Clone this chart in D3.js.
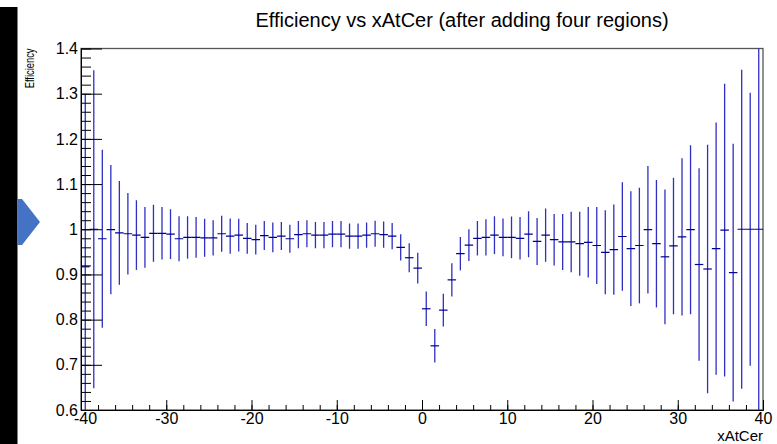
<!DOCTYPE html>
<html>
<head>
<meta charset="utf-8">
<script src="https://cdn.jsdelivr.net/npm/d3@7"></script>
<style>
  html, body { margin: 0; padding: 0; background: #fff; }
  svg { display: block; font-family: "Liberation Sans", Arial, Helvetica, sans-serif; }
</style>
</head>
<body>
<svg id="chart" width="777" height="444"></svg>
<script>
// Bin centres of xAtCer (80 bins of width 1 between -40 and 40)
const binCenters = [
  -39.5, -38.5, -37.5, -36.5, -35.5, -34.5, -33.5, -32.5, -31.5, -30.5,
  -29.5, -28.5, -27.5, -26.5, -25.5, -24.5, -23.5, -22.5, -21.5, -20.5,
  -19.5, -18.5, -17.5, -16.5, -15.5, -14.5, -13.5, -12.5, -11.5, -10.5,
  -9.5, -8.5, -7.5, -6.5, -5.5, -4.5, -3.5, -2.5, -1.5, -0.5,
  0.5, 1.5, 2.5, 3.5, 4.5, 5.5, 6.5, 7.5, 8.5, 9.5,
  10.5, 11.5, 12.5, 13.5, 14.5, 15.5, 16.5, 17.5, 18.5, 19.5,
  20.5, 21.5, 22.5, 23.5, 24.5, 25.5, 26.5, 27.5, 28.5, 29.5,
  30.5, 31.5, 32.5, 33.5, 34.5, 35.5, 36.5, 37.5, 38.5, 39.5
];
const binHalfWidth = 0.5;

// Efficiency per bin
const efficiency = [
  0.917, 1.000, 0.979, 0.999, 0.992, 0.990, 0.987, 0.982, 0.991, 0.991,
  0.989, 0.979, 0.982, 0.982, 0.981, 0.981, 0.990, 0.985, 0.987, 0.980,
  0.977, 0.986, 0.982, 0.985, 0.979, 0.988, 0.990, 0.987, 0.987, 0.989,
  0.989, 0.985, 0.985, 0.987, 0.990, 0.988, 0.985, 0.960, 0.937, 0.914,
  0.824, 0.742, 0.821, 0.888, 0.946, 0.965, 0.980, 0.982, 0.987, 0.982,
  0.982, 0.980, 0.989, 0.973, 0.987, 0.977, 0.972, 0.972, 0.968, 0.971,
  0.964, 0.949, 0.955, 0.984, 0.957, 0.964, 0.999, 0.968, 0.939, 0.963,
  0.983, 0.999, 0.922, 0.912, 0.957, 0.998, 0.904, 1.000, 1.000, 1.000
];

// Symmetric error on each bin
const efficiencyErr = [
  0.383, 0.352, 0.197, 0.143, 0.115, 0.090, 0.077, 0.067, 0.063, 0.058,
  0.055, 0.050, 0.047, 0.045, 0.042, 0.039, 0.040, 0.039, 0.036, 0.034,
  0.033, 0.032, 0.033, 0.031, 0.031, 0.030, 0.030, 0.029, 0.029, 0.029,
  0.029, 0.028, 0.028, 0.028, 0.029, 0.029, 0.029, 0.029, 0.032, 0.034,
  0.038, 0.037, 0.036, 0.037, 0.037, 0.035, 0.038, 0.040, 0.042, 0.042,
  0.046, 0.047, 0.051, 0.052, 0.059, 0.057, 0.062, 0.067, 0.071, 0.078,
  0.085, 0.093, 0.100, 0.120, 0.127, 0.128, 0.141, 0.141, 0.149, 0.151,
  0.174, 0.187, 0.213, 0.275, 0.279, 0.324, 0.285, 0.353, 0.302, 0.450
];

const xTickValues = [-40, -30, -20, -10, 0, 10, 20, 30, 40];
const yTickValues = [0.6, 0.7, 0.8, 0.9, 1.0, 1.1, 1.2, 1.3, 1.4];

const titleText = "Efficiency vs xAtCer (after adding four regions)";
const xTitle = "xAtCer";
const yTitle = "Efficiency";

const svg = d3.select("#chart");
const frame = { left: 81, right: 763, top: 48.5, bottom: 410 };

const x = d3.scaleLinear().domain([-40, 40]).range([frame.left, frame.right]);
const y = d3.scaleLinear().domain([0.6, 1.4]).range([frame.bottom, frame.top]);

// side panel decoration
svg.append("rect").attr("x", 0).attr("y", 7).attr("width", 17.5).attr("height", 437).attr("fill", "#000");
svg.append("path")
  .attr("d", "M17.5,199 L22,199 L40,222 L22,245 L17.5,245 Z")
  .attr("fill", "#4472c4");

// frame box
svg.append("rect")
  .attr("x", frame.left).attr("y", frame.top)
  .attr("width", frame.right - frame.left).attr("height", frame.bottom - frame.top)
  .attr("fill", "none").attr("stroke", "#555").attr("stroke-width", 1.3);

svg.append("defs").append("clipPath").attr("id", "plotClip")
  .append("rect")
  .attr("x", frame.left).attr("y", frame.top)
  .attr("width", frame.right - frame.left).attr("height", frame.bottom - frame.top);

// error bars: vertical extent = ±error, horizontal extent = bin width
const bins = binCenters.map((c, i) => ({ c, v: efficiency[i], e: efficiencyErr[i] }));
const gBars = svg.append("g").attr("clip-path", "url(#plotClip)").attr("fill", "none");

gBars.selectAll("line.v").data(bins).join("line").attr("class", "v")
  .attr("stroke", "#2f2fc4").attr("stroke-width", 1.3)
  .attr("x1", d => x(d.c)).attr("x2", d => x(d.c))
  .attr("y1", d => y(d.v - d.e)).attr("y2", d => y(d.v + d.e));

gBars.selectAll("line.h").data(bins).join("line").attr("class", "h")
  .attr("stroke", "#000090").attr("stroke-width", 1.2)
  .attr("x1", d => x(d.c - binHalfWidth)).attr("x2", d => x(d.c + binHalfWidth))
  .attr("y1", d => y(d.v)).attr("y2", d => y(d.v));

// y axis: minor and major ticks drawn inward
svg.append("g").attr("transform", `translate(${frame.left},0)`)
  .call(d3.axisLeft(y).tickValues(y.ticks(40)).tickSize(-10).tickSizeOuter(0).tickFormat(""));
svg.append("g").attr("transform", `translate(${frame.left},0)`)
  .call(d3.axisLeft(y).tickValues(yTickValues).tickSize(-21).tickSizeOuter(0).tickPadding(3)
    .tickFormat(d => String(+d.toFixed(2))));

// x axis: minor and major ticks drawn inward
svg.append("g").attr("transform", `translate(0,${frame.bottom})`)
  .call(d3.axisBottom(x).tickValues(x.ticks(40)).tickSize(-5).tickSizeOuter(0).tickFormat(""));
const xMajor = svg.append("g").attr("transform", `translate(0,${frame.bottom})`)
  .call(d3.axisBottom(x).tickValues(xTickValues).tickSize(-10).tickSizeOuter(0).tickPadding(3)
    .tickFormat(d => String(d)));

svg.selectAll(".tick line").attr("stroke", "#000");
svg.selectAll(".domain").attr("stroke", "#000");
svg.selectAll(".tick text").attr("font-size", 16).attr("fill", "#000")
  .attr("font-family", '"Liberation Sans", Arial, Helvetica, sans-serif');
// first x label sits slightly right so it clears the y labels
xMajor.selectAll(".tick text").filter(d => d === -40).attr("dx", 4);

// titles
svg.append("text").attr("x", 462).attr("y", 27).attr("text-anchor", "middle")
  .attr("font-size", 20).attr("fill", "#000").text(titleText);
svg.append("text").attr("x", frame.right).attr("y", 441).attr("text-anchor", "end")
  .attr("font-size", 15).attr("fill", "#000").text(xTitle);
svg.append("text").attr("transform", `translate(34,${frame.top}) rotate(-90) scale(0.72,1)`)
  .attr("text-anchor", "end").attr("font-size", 13).attr("fill", "#000").text(yTitle);
</script>
</body>
</html>
